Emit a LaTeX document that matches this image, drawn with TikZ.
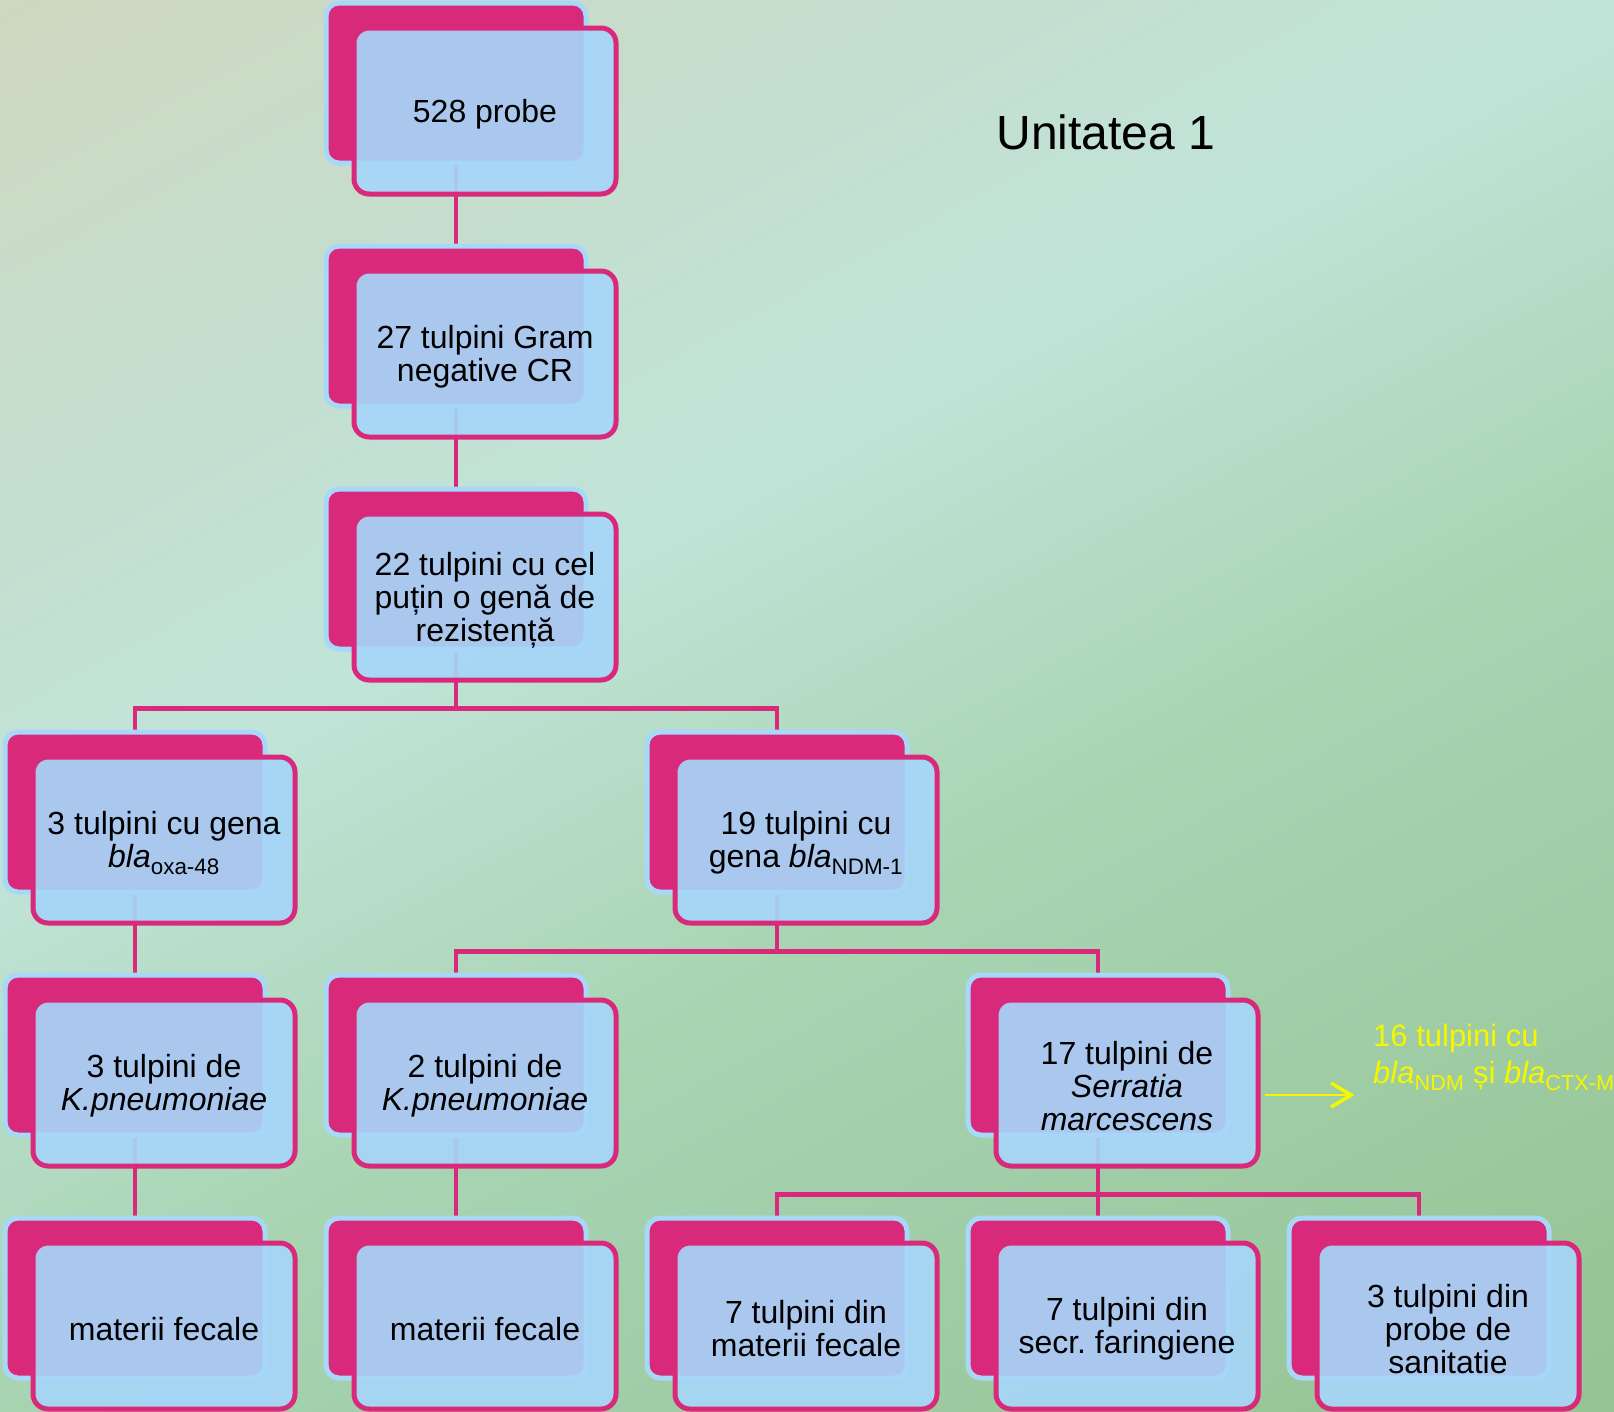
\documentclass[tikz,border=0pt]{standalone}
\usepackage{fontspec}
\setmainfont{Liberation Sans}
\frenchspacing
\usetikzlibrary{arrows.meta,calc}
\pgfdeclarelayer{bg}
\pgfsetlayers{bg,main}
\definecolor{pinkc}{HTML}{D9297A}
\definecolor{lblue}{HTML}{A6D6F8}
\definecolor{lblueline}{HTML}{A8D8F8}
\definecolor{yellowc}{HTML}{F6F600}
\definecolor{bgT}{HTML}{CFD8C0}
\definecolor{bgL}{HTML}{C3DFD0}
\definecolor{bgM}{HTML}{C1E4D9}
\definecolor{bgB}{HTML}{A8D4B2}
\definecolor{bgC}{HTML}{A5D2B0}
\definecolor{bgG}{HTML}{96C494}
\pgfdeclareverticalshading{bgsh}{100bp}{color(0bp)=(bgG); color(28bp)=(bgG); color(43bp)=(bgC); color(45bp)=(bgB); color(55.5bp)=(bgM); color(61.5bp)=(bgL); color(73bp)=(bgT); color(100bp)=(bgT)}
\tikzset{
  backbox/.style={draw=lblueline, line width=5pt, fill=pinkc, rounded corners=13pt,
    minimum width=260pt, minimum height=160pt, inner sep=0pt},
  frontbox/.style={draw=pinkc, line width=5pt, fill=lblue, fill opacity=0.92, text opacity=1,
    rounded corners=15pt, minimum width=262pt, minimum height=166pt, inner sep=0pt},
  boxtext/.style={inner sep=0pt, align=center, font=\fontsize{32}{33}\selectfont, text=black},
  conn/.style={draw=pinkc, line width=4.5pt},
  yarrow/.style={draw=yellowc, line width=2.5pt, -{Straight Barb[length=20pt,width=24pt,line width=3.5pt]}},
}
\newcommand{\tnode}[4]{%
  \node[backbox] (#3b) at ({5+321*#1+130},{3+243*#2+80}) {};
  \node[frontbox] (#3) at ({5+321*#1+159},{3+243*#2+108}) {};
  \node[boxtext] (#3t) at ($(#3)+(0,3)$) {#4};
}
\begin{document}
\begin{tikzpicture}[x=1pt,y=-1pt]
\useasboundingbox (0,0) rectangle (1614,1411);
\tnode{1}{0}{na}{528 probe}
\tnode{1}{1}{nb}{27 tulpini Gram\\negative CR}
\tnode{1}{2}{nc}{22 tulpini cu cel\\puțin o genă de\\rezistență}
\tnode{0}{3}{nd}{3 tulpini cu gena\\\textit{bla}\textsubscript{oxa-48}}
\tnode{2}{3}{ne}{19 tulpini cu\\gena \textit{bla}\textsubscript{NDM-1}}
\tnode{0}{4}{nf}{3 tulpini de\\\textit{K.pneumoniae}}
\tnode{1}{4}{ng}{2 tulpini de\\\textit{K.pneumoniae}}
\tnode{3}{4}{nh}{17 tulpini de\\\textit{Serratia}\\\textit{marcescens}}
\tnode{0}{5}{ni}{materii fecale}
\tnode{1}{5}{nj}{materii fecale}
\tnode{2}{5}{nk}{7 tulpini din\\materii fecale}
\tnode{3}{5}{nl}{7 tulpini din\\secr. faringiene}
\tnode{4}{5}{nm}{3 tulpini din\\probe de\\sanitatie}
\node[font=\fontsize{48}{50}\selectfont, text=black] (title) at (1106,132) {Unitatea 1};
\node[anchor=north west, inner sep=0pt, align=left, text=yellowc, font=\fontsize{31}{37}\selectfont] (yt) at (1373,1024)
  {16 tulpini cu\\\textit{bla}\textsubscript{NDM} și \textit{bla}\textsubscript{CTX-M}};
\draw[yarrow] ($(nh.east)+(4,12)$) -- ++(90,0);
\begin{pgfonlayer}{bg}
  \begin{scope}
    \clip (0,0) rectangle (1614,1411);
    \begin{scope}[transform canvas={rotate around={28:(807,705)}}]
      \shade[shading=bgsh] (-293,-395) rectangle (1907,1805);
    \end{scope}
  \end{scope}
  \foreach \p/\c in {na/nb, nb/nc, nc/nd, nc/ne, nd/nf, ne/ng, ne/nh, nf/ni, ng/nj, nh/nk, nh/nl, nh/nm}{
    \draw[conn] (\p b.south) -- ++(0,57) -| (\c b.north);
  }
\end{pgfonlayer}
\end{tikzpicture}
\end{document}
